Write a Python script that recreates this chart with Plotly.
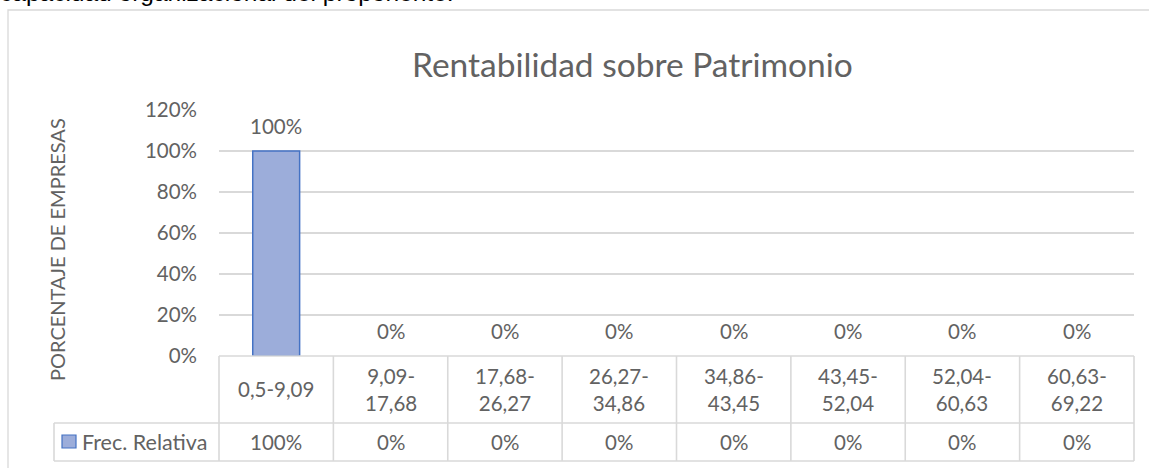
import plotly.graph_objects as go

# ---- data ----
categories = ["0,5-9,09", "9,09-<br>17,68", "17,68-<br>26,27", "26,27-<br>34,86",
              "34,86-<br>43,45", "43,45-<br>52,04", "52,04-<br>60,63", "60,63-<br>69,22"]
values = [1.0, 0, 0, 0, 0, 0, 0, 0]
series_name = "Frec. Relativa"
chart_title = "Rentabilidad sobre Patrimonio"
y_title = "PORCENTAJE DE EMPRESAS"
caption = "capacidad organizacional del proponente."

# ---- layout constants ----
W, H = 1149, 468
L, R, T, B = 219, 15, 110, 112
pw, ph = W - L - R, H - T - B
GRAY = "#626262"
GRID = "#d9d9d9"
FONT = "Lato"
FS = 20.5
BAR_FILL = "#9cadda"
BAR_LINE = "#4472c4"


def px_x(x):
    return (x - L) / pw


def px_y(y):
    return (H - B - y) / ph


n = len(categories)
idx = list(range(n))

fig = go.Figure()
fig.add_trace(go.Bar(
    x=idx, y=values, name=series_name, width=0.41,
    marker=dict(color=BAR_FILL,
                line=dict(color=BAR_LINE, width=[1.5 if v > 0 else 0 for v in values])),
    showlegend=False, hoverinfo="skip",
))

annotations = []
# data labels
for i, v in zip(idx, values):
    annotations.append(dict(x=i, y=v, xref="x", yref="y", text=f"{v:.0%}",
                            showarrow=False, xanchor="center", yanchor="middle", yshift=25,
                            font=dict(family=FONT, size=FS, color=GRAY)))
# table: category row & value row
for i, (c, v) in enumerate(zip(categories, values)):
    xc = (i + 0.5) / n
    annotations.append(dict(x=xc, y=px_y(389), xref="paper", yref="paper", text=c,
                            showarrow=False, xanchor="center", yanchor="middle", align="center",
                            font=dict(family=FONT, size=FS, color=GRAY)))
    annotations.append(dict(x=xc, y=px_y(442), xref="paper", yref="paper", text=f"{v:.0%}",
                            showarrow=False, xanchor="center", yanchor="middle",
                            font=dict(family=FONT, size=FS, color=GRAY)))
# legend text in table
annotations.append(dict(x=px_x(80), y=px_y(442), xref="paper", yref="paper", text=series_name,
                        showarrow=False, xanchor="left", yanchor="middle",
                        font=dict(family=FONT, size=21.5, color=GRAY)))
# title
annotations.append(dict(x=px_x(632), y=px_y(64), xref="paper", yref="paper", text=chart_title,
                        showarrow=False, xanchor="center", yanchor="middle",
                        font=dict(family=FONT, size=33.5, color=GRAY)))
# y title
annotations.append(dict(x=px_x(57), y=px_y(250), xref="paper", yref="paper", text=y_title,
                        showarrow=False, textangle=-90, xanchor="center", yanchor="middle",
                        font=dict(family=FONT, size=20, color=GRAY)))
# caption (cut off at top)
annotations.append(dict(x=px_x(-2), y=px_y(8.5), xref="paper", yref="paper", text=caption,
                        showarrow=False, xanchor="left", yanchor="bottom",
                        font=dict(family="Liberation Sans", size=24.5, color="black")))

shapes = []
line = dict(color=GRID, width=1.6)
# chart border
shapes.append(dict(type="rect", xref="paper", yref="paper",
                   x0=px_x(8), x1=px_x(1160), y0=px_y(480), y1=px_y(10),
                   line=dict(color=GRID, width=1.3), layer="below"))
# table horizontal lines
y_top, y_mid, y_bot = 0, px_y(423), px_y(461)
shapes.append(dict(type="line", xref="paper", yref="paper", x0=0, x1=1, y0=y_top, y1=y_top, line=line))
shapes.append(dict(type="line", xref="paper", yref="paper", x0=px_x(54), x1=1, y0=y_mid, y1=y_mid, line=line))
shapes.append(dict(type="line", xref="paper", yref="paper", x0=px_x(54), x1=1, y0=y_bot, y1=y_bot, line=line))
# verticals
for k in range(n + 1):
    shapes.append(dict(type="line", xref="paper", yref="paper", x0=k / n, x1=k / n,
                       y0=y_top, y1=y_bot, line=line))
shapes.append(dict(type="line", xref="paper", yref="paper", x0=px_x(54), x1=px_x(54),
                   y0=y_mid, y1=y_bot, line=line))
# legend key
shapes.append(dict(type="rect", xref="paper", yref="paper",
                   x0=px_x(62), x1=px_x(76), y0=px_y(448), y1=px_y(435),
                   fillcolor=BAR_FILL, line=dict(color=BAR_LINE, width=1.2)))

fig.update_layout(
    width=W, height=H,
    margin=dict(l=L, r=R, t=T, b=B),
    paper_bgcolor="white", plot_bgcolor="white",
    font=dict(family=FONT, color=GRAY),
    xaxis=dict(range=[-0.5, n - 0.5], showticklabels=False, showgrid=False,
               zeroline=False, showline=False, ticks="", fixedrange=True),
    yaxis=dict(range=[0, 1.2], dtick=0.2, tickformat=".0%", showgrid=True,
               gridcolor=GRID, gridwidth=1.6, zeroline=False, showline=False,
               ticks="", ticklabelstandoff=21, fixedrange=True,
               tickfont=dict(family=FONT, size=FS, color=GRAY)),
    annotations=annotations,
    shapes=shapes,
    bargap=0.59,
)

fig.write_html("out.html", config={"displayModeBar": False},
               post_script="document.body.style.margin='0';document.body.style.overflow='hidden';")
